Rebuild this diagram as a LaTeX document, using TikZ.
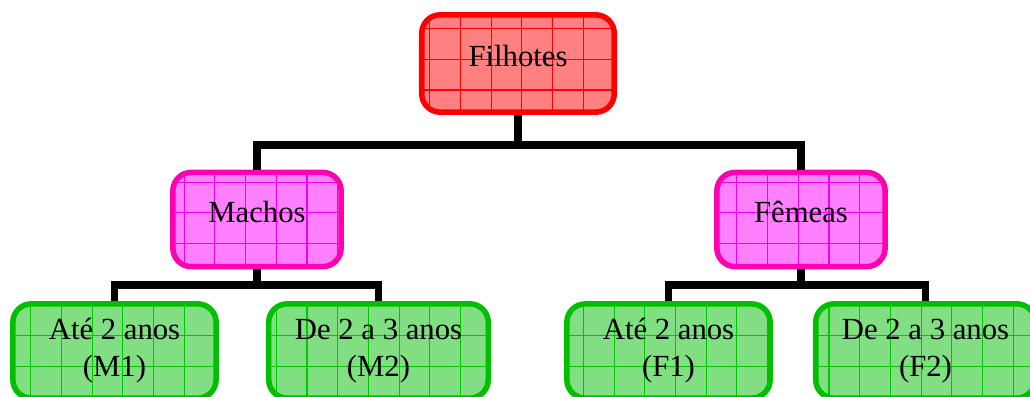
\documentclass[tikz,border=0pt]{standalone}
\usepackage{fontspec}
\setmainfont{Liberation Serif}
\usetikzlibrary{patterns}
\pgfdeclarepatternformonly{biggrid}{\pgfqpoint{-1pt}{-1pt}}{\pgfqpoint{10pt}{10pt}}{\pgfqpoint{10pt}{10pt}}
{
  \pgfsetlinewidth{0.35pt}
  \pgfpathmoveto{\pgfqpoint{0pt}{0pt}}
  \pgfpathlineto{\pgfqpoint{0pt}{10.1pt}}
  \pgfpathmoveto{\pgfqpoint{0pt}{0pt}}
  \pgfpathlineto{\pgfqpoint{10.1pt}{0pt}}
  \pgfusepath{stroke}
}
\definecolor{rb}{RGB}{255,0,0}
\definecolor{rf}{RGB}{255,128,128}
\definecolor{mb}{RGB}{255,0,176}
\definecolor{mf}{RGB}{255,128,255}
\definecolor{mg}{RGB}{240,0,240}
\definecolor{gb}{RGB}{0,190,0}
\definecolor{gf}{RGB}{130,222,130}
\definecolor{gg}{RGB}{0,200,0}
\tikzset{
  box/.style={draw, line width=1.8pt, rounded corners=6pt, font=\fontsize{10pt}{12pt}\selectfont, align=center, inner sep=0pt},
  rootbox/.style={box, draw=rb, preaction={fill=rf}, pattern=biggrid, pattern color=rb,
    minimum width=62.7pt, minimum height=31.7pt, text height=7pt, text depth=4.8pt},
  midbox/.style={box, draw=mb, preaction={fill=mf}, pattern=biggrid, pattern color=mg,
    minimum width=54.8pt, minimum height=30.7pt, text height=7pt, text depth=4.8pt},
  leafbox/.style={box, draw=gb, preaction={fill=gf}, pattern=biggrid, pattern color=gg,
    minimum height=30.7pt},
  link/.style={line width=2.6pt, black}
}
\begin{document}
\begin{tikzpicture}[x=0.3257pt,y=-0.3257pt]
\useasboundingbox (0,0) rectangle (1030,397);
\clip (0,0) rectangle (1030,397);
\coordinate (j0) at (518,145);
\coordinate (j1) at (257,285);
\coordinate (j2) at (801,285);
\node[rootbox] (root) at (518,63.5) {Filhotes};
\node[midbox] (mach) at (257,219.5) {Machos};
\node[midbox] (fem) at (801,219.5) {Fêmeas};
\node[leafbox, minimum width=66.2pt] (m1) at (114.5,351) {Até 2 anos\\(M1)};
\node[leafbox, minimum width=71.5pt] (m2) at (378.5,351) {De 2 a 3 anos\\(M2)};
\node[leafbox, minimum width=66.2pt] (f1) at (668.5,351) {Até 2 anos\\(F1)};
\node[leafbox, minimum width=71.5pt] (f2) at (925.5,351) {De 2 a 3 anos\\(F2)};
\draw[link] (root.south) -- (j0);
\draw[link] (mach.north) |- (j0) -| (fem.north);
\draw[link] (mach.south) -- (j1);
\draw[link] (m1.north) |- (j1) -| (m2.north);
\draw[link] (fem.south) -- (j2);
\draw[link] (f1.north) |- (j2) -| (f2.north);
\end{tikzpicture}
\end{document}
